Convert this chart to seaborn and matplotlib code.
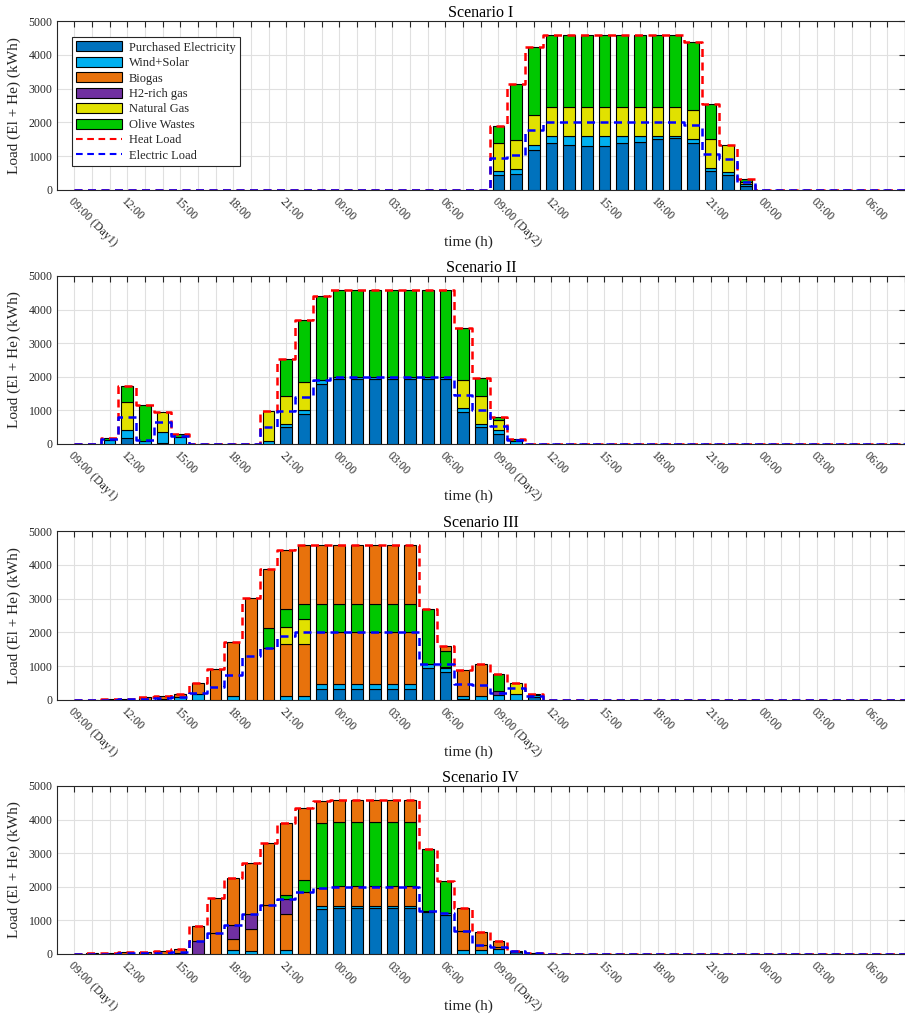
import numpy as np
import matplotlib
matplotlib.use("Agg")
import matplotlib.pyplot as plt
from matplotlib.patches import Patch
from matplotlib.lines import Line2D
import seaborn as sns

# ---------------------------------------------------------------------------
# Hourly time axis (48 h, starting 09:00 on day 1)
# ---------------------------------------------------------------------------
N_HOURS = 48
tick_labels = ["09:00 (Day1)", "12:00", "15:00", "18:00", "21:00", "00:00",
               "03:00", "06:00", "09:00 (Day2)", "12:00", "15:00", "18:00",
               "21:00", "00:00", "03:00", "06:00"]

source_names = ["Purchased Electricity", "Wind+Solar", "Biogas", "H2-rich gas",
                "Natural Gas", "Olive Wastes"]
source_colors = ["#0072BD", "#00B0F0", "#E8720C", "#7030A0", "#E1E100", "#00C800"]

# ---------------------------------------------------------------------------
# Scenario I  (non-zero window: hours 25..39)
# ---------------------------------------------------------------------------
s1_first = 25
s1_purchased = [430, 480, 1170, 1380, 1330, 1290, 1290, 1380, 1430, 1500, 1530, 1400, 565, 435, 110]
s1_wind_solar = [130, 145, 160, 230, 280, 320, 320, 230, 180, 110, 80, 120, 90, 100, 70]
s1_biogas_el = [0, 0, 0, 0, 0, 0, 0, 0, 0, 0, 0, 0, 0, 0, 0]
s1_h2 = [0, 0, 0, 0, 0, 0, 0, 0, 0, 0, 0, 0, 0, 0, 0]
s1_natural_gas = [840, 855, 885, 855, 855, 855, 855, 855, 855, 855, 855, 845, 845, 795, 50]
s1_olive = [500, 1660, 2020, 2115, 2115, 2115, 2115, 2115, 2115, 2115, 2115, 2015, 1045, 0, 100]
s1_biogas_th = [0, 0, 0, 0, 0, 0, 0, 0, 0, 0, 0, 0, 0, 0, 0]
s1_heat = [1900, 3140, 4235, 4580, 4580, 4580, 4580, 4580, 4580, 4580, 4580, 4380, 2545, 1330, 330]
s1_electric = [955, 1035, 1770, 2000, 2000, 2000, 2000, 2000, 2000, 2000, 2000, 1910, 1055, 905, 230]

# ---------------------------------------------------------------------------
# Scenario II  (non-zero window: hours 3..26)
# ---------------------------------------------------------------------------
s2_first = 3
s2_purchased = [0, 170, 0, 20, 0, 0, 0, 0, 0, 0, 500, 895, 1790, 1920, 1920, 1920, 1920, 1920, 1920, 1920, 960, 495, 290, 0]
s2_wind_solar = [110, 240, 100, 330, 220, 0, 0, 0, 0, 80, 100, 110, 100, 80, 80, 80, 80, 80, 80, 80, 100, 110, 125, 100]
s2_biogas_el = [0, 0, 0, 0, 0, 0, 0, 0, 0, 0, 0, 0, 0, 0, 0, 0, 0, 0, 0, 0, 0, 0, 0, 0]
s2_h2 = [0, 0, 0, 0, 0, 0, 0, 0, 0, 0, 0, 0, 0, 0, 0, 0, 0, 0, 0, 0, 0, 0, 0, 0]
s2_natural_gas = [0, 850, 0, 610, 0, 0, 0, 0, 0, 895, 820, 845, 0, 0, 0, 0, 0, 0, 0, 0, 835, 835, 290, 0]
s2_olive = [80, 475, 1070, 0, 70, 0, 0, 0, 0, 0, 1115, 1850, 2515, 2580, 2580, 2580, 2580, 2580, 2580, 2580, 1565, 515, 110, 50]
s2_biogas_th = [0, 0, 0, 0, 0, 0, 0, 0, 0, 0, 0, 0, 0, 0, 0, 0, 0, 0, 0, 0, 0, 0, 0, 0]
s2_heat = [190, 1735, 1170, 960, 290, 0, 0, 0, 0, 975, 2535, 3700, 4405, 4580, 4580, 4580, 4580, 4580, 4580, 4580, 3460, 1955, 815, 150]
s2_electric = [150, 815, 120, 640, 240, 0, 0, 0, 0, 500, 995, 1400, 1890, 2000, 2000, 2000, 2000, 2000, 2000, 2000, 1460, 1000, 545, 120]

# ---------------------------------------------------------------------------
# Scenario III  (non-zero window: hours 2..27)
# ---------------------------------------------------------------------------
s3_first = 2
s3_purchased = [0, 0, 0, 0, 0, 0, 0, 0, 0, 0, 0, 0, 0, 340, 340, 340, 340, 340, 340, 960, 815, 40, 0, 0, 0, 90]
s3_wind_solar = [0, 0, 0, 0, 30, 100, 180, 0, 130, 0, 0, 110, 110, 120, 120, 120, 120, 120, 120, 110, 120, 80, 130, 150, 180, 60]
s3_biogas_el = [10, 20, 40, 80, 80, 90, 315, 920, 1575, 3015, 1530, 1555, 1555, 1540, 1540, 1540, 1540, 1540, 1540, 0, 50, 770, 940, 0, 0, 0]
s3_h2 = [0, 0, 0, 0, 0, 0, 0, 0, 0, 0, 0, 0, 0, 0, 0, 0, 0, 0, 0, 0, 0, 0, 0, 130, 0, 0]
s3_natural_gas = [0, 0, 0, 0, 0, 0, 0, 0, 0, 0, 0, 505, 745, 0, 0, 0, 0, 0, 0, 0, 0, 0, 0, 0, 335, 0]
s3_olive = [0, 0, 0, 0, 0, 0, 0, 0, 0, 0, 600, 530, 440, 850, 850, 850, 850, 850, 850, 1630, 450, 0, 0, 500, 0, 30]
s3_biogas_th = [0, 0, 0, 0, 0, 0, 0, 0, 0, 0, 1740, 1735, 1730, 1730, 1730, 1730, 1730, 1730, 1730, 0, 170, 0, 0, 0, 0, 0]
s3_heat = [10, 20, 40, 80, 110, 190, 495, 920, 1705, 3015, 3870, 4435, 4580, 4580, 4580, 4580, 4580, 4580, 4580, 2700, 1605, 890, 1070, 780, 515, 180]
s3_electric = [0, 10, 20, 40, 60, 90, 220, 385, 725, 1290, 1530, 1905, 2000, 2000, 2000, 2000, 2000, 2000, 2000, 1070, 1055, 485, 435, 220, 350, 120]

# ---------------------------------------------------------------------------
# Scenario IV  (non-zero window: hours 2..27)
# ---------------------------------------------------------------------------
s4_first = 2
s4_purchased = [0, 0, 0, 0, 0, 40, 0, 0, 0, 0, 0, 0, 0, 1340, 1360, 1360, 1360, 1360, 1360, 1240, 1160, 0, 0, 0, 60, 40]
s4_wind_solar = [0, 0, 0, 0, 0, 0, 0, 0, 120, 100, 0, 110, 0, 90, 80, 80, 80, 80, 80, 50, 70, 120, 120, 150, 0, 0]
s4_biogas_el = [20, 40, 50, 70, 90, 100, 0, 625, 315, 655, 1460, 1090, 1845, 545, 585, 585, 585, 585, 585, 0, 0, 565, 150, 70, 0, 0]
s4_h2 = [0, 0, 0, 0, 0, 0, 400, 0, 430, 445, 0, 425, 0, 0, 0, 0, 0, 0, 0, 0, 0, 0, 0, 0, 40, 0]
s4_natural_gas = [0, 0, 0, 0, 0, 0, 0, 0, 0, 0, 0, 0, 0, 0, 0, 0, 0, 0, 0, 0, 0, 0, 0, 0, 0, 0]
s4_olive = [0, 0, 0, 0, 0, 0, 0, 0, 0, 0, 0, 130, 355, 1915, 1915, 1915, 1915, 1915, 1915, 1835, 940, 0, 0, 0, 0, 0]
s4_biogas_th = [0, 0, 0, 0, 0, 0, 435, 1050, 1385, 1500, 1835, 2135, 2135, 665, 640, 640, 640, 640, 640, 0, 0, 695, 395, 165, 0, 0]
s4_heat = [20, 40, 50, 70, 90, 140, 835, 1675, 2250, 2700, 3295, 3890, 4335, 4555, 4580, 4580, 4580, 4580, 4580, 3125, 2170, 1380, 665, 385, 100, 40]
s4_electric = [0, 10, 20, 30, 40, 60, 400, 625, 865, 1200, 1460, 1650, 1845, 1975, 2000, 2000, 2000, 2000, 2000, 1280, 1230, 685, 270, 200, 100, 30]


def full_day(first, values):
    """Place a window of hourly values onto the 48-hour axis (hours 1..48)."""
    out = np.zeros(N_HOURS)
    out[first - 1:first - 1 + len(values)] = values
    return out


scenarios = [
    ("Scenario I", s1_first,
     [s1_purchased, s1_wind_solar, s1_biogas_el, s1_h2, s1_natural_gas, s1_olive, s1_biogas_th],
     s1_heat, s1_electric),
    ("Scenario II", s2_first,
     [s2_purchased, s2_wind_solar, s2_biogas_el, s2_h2, s2_natural_gas, s2_olive, s2_biogas_th],
     s2_heat, s2_electric),
    ("Scenario III", s3_first,
     [s3_purchased, s3_wind_solar, s3_biogas_el, s3_h2, s3_natural_gas, s3_olive, s3_biogas_th],
     s3_heat, s3_electric),
    ("Scenario IV", s4_first,
     [s4_purchased, s4_wind_solar, s4_biogas_el, s4_h2, s4_natural_gas, s4_olive, s4_biogas_th],
     s4_heat, s4_electric),
]
# colour of each stacked layer (biogas appears twice: electric and thermal share)
layer_colors = source_colors + [source_colors[2]]

# ---------------------------------------------------------------------------
# Style
# ---------------------------------------------------------------------------
sns.set_theme(style="whitegrid")
plt.rcParams["font.family"] = ["Liberation Serif", "DejaVu Serif"]
plt.rcParams["axes.edgecolor"] = "#262626"
plt.rcParams["axes.linewidth"] = 0.8

TXT = "#262626"
DASH = (0, (3.2, 2.2))
fig = plt.figure(figsize=(9.05, 10.18), dpi=100)

W_PX, H_PX = 905.0, 1018.0
left_px = 56.5
axes_px = [(21, 190), (276, 444), (531, 700), (786, 954)]  # (top, bottom)

hours = np.arange(1, N_HOURS + 1)
tick_pos = np.arange(1, N_HOURS + 1, 3)

for k, (title, first, layers, heat, elec) in enumerate(scenarios):
    top, bot = axes_px[k]
    ax = fig.add_axes([left_px / W_PX, 1 - bot / H_PX,
                       (W_PX - left_px) / W_PX, (bot - top) / H_PX])

    # stacked supply bars
    bottom = np.zeros(N_HOURS)
    for vals, col in zip(layers, layer_colors):
        v = full_day(first, vals)
        m = v > 0
        ax.bar(hours[m], v[m], bottom=bottom[m], width=0.66, color=col,
               edgecolor="black", linewidth=0.8, zorder=3)
        bottom += v

    # load profiles
    heat_full = full_day(first, heat)
    elec_full = full_day(first, elec)
    sns.lineplot(x=hours, y=heat_full, ax=ax, color="#FF0000", linewidth=1.8,
                 linestyle=DASH, drawstyle="steps-mid", zorder=4)
    sns.lineplot(x=hours, y=elec_full, ax=ax, color="#0000FF", linewidth=1.8,
                 linestyle=DASH, drawstyle="steps-mid", zorder=5)

    ax.set_xlim(0, 47.94)
    ax.set_ylim(0, 5000)
    ax.set_xticks(hours)
    labels = [""] * N_HOURS
    for p, lab in zip(tick_pos, tick_labels):
        labels[p - 1] = lab
    ax.set_xticklabels(labels, rotation=-45, ha="left", va="top",
                       rotation_mode="anchor", fontsize=8.5, color=TXT)
    ax.set_yticks(np.arange(0, 5001, 1000))
    ax.set_yticklabels([str(v) for v in range(0, 5001, 1000)], fontsize=8.5, color=TXT)
    ax.tick_params(axis="both", direction="in", length=4, width=0.8,
                   top=True, right=True, colors=TXT, labelcolor=TXT, pad=3)
    ax.tick_params(axis="x", pad=4)
    ax.grid(True, which="major", color="#E0E0E0", linewidth=0.8, zorder=0)
    ax.set_axisbelow(True)
    for s in ax.spines.values():
        s.set_color("#262626")
        s.set_linewidth(0.8)

    ax.set_title(title, fontsize=11.5, pad=3, color="black")
    ax.set_xlabel("time (h)", fontsize=11, color=TXT)
    ax.xaxis.set_label_coords(0.485, -0.27)
    ax.set_ylabel("Load (El + He) (kWh)", fontsize=11, color=TXT)
    ax.yaxis.set_label_coords(-0.042, 0.5)

    if k == 0:
        handles = [Patch(facecolor=c, edgecolor="black", linewidth=0.8)
                   for c in source_colors]
        handles += [Line2D([0], [0], color="#FF0000", linewidth=1.5, linestyle=DASH),
                    Line2D([0], [0], color="#0000FF", linewidth=1.5, linestyle=DASH)]
        names = source_names + ["Heat Load", "Electric Load"]
        leg = ax.legend(handles, names, loc="upper left",
                        bbox_to_anchor=(0.018, 0.905), fontsize=9,
                        frameon=True, fancybox=False, framealpha=1,
                        edgecolor="#262626", handlelength=3.7, handleheight=0.85,
                        labelspacing=0.25, borderpad=0.35, handletextpad=0.5,
                        borderaxespad=0)
        leg.get_frame().set_linewidth(0.8)
        leg.set_zorder(10)
    else:
        lg = ax.get_legend()
        if lg is not None:
            lg.remove()

fig.savefig("out.png", dpi=100)
